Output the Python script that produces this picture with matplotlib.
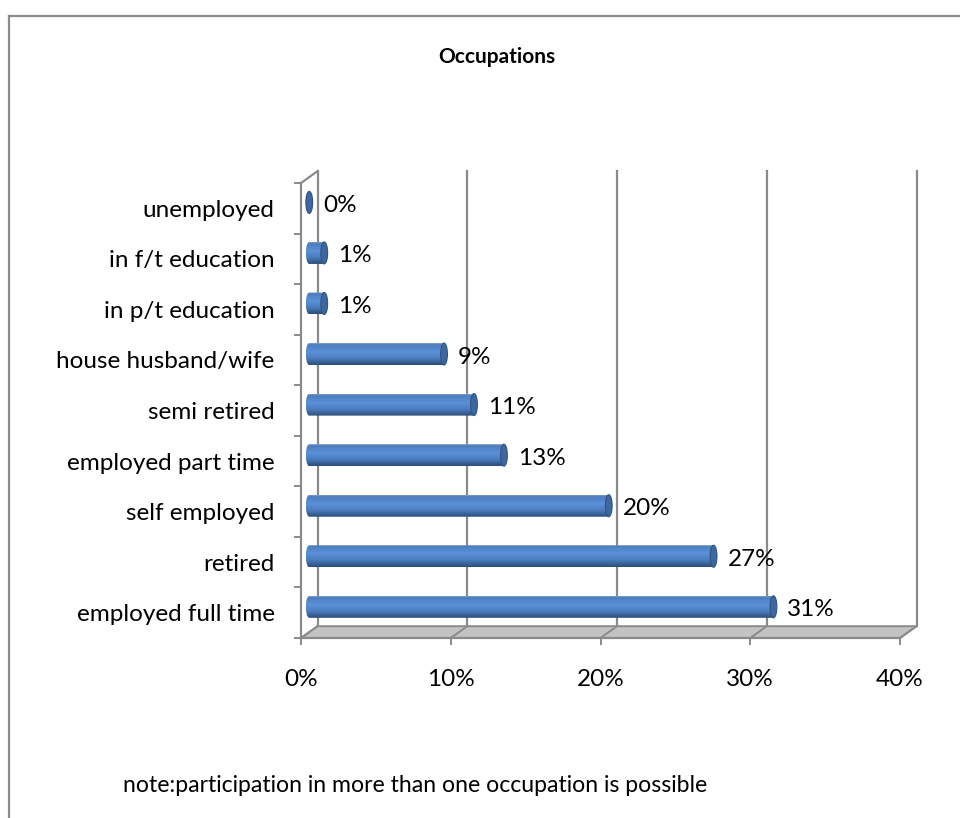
import numpy as np
import matplotlib
matplotlib.use("Agg")
import matplotlib.pyplot as plt
from matplotlib.patches import Polygon, Ellipse
from matplotlib.lines import Line2D
from matplotlib.colors import to_rgb

# ---- data ----
categories = ["unemployed", "in f/t education", "in p/t education",
              "house husband/wife", "semi retired", "employed part time",
              "self employed", "retired", "employed full time"]
values = [0, 1, 1, 9, 11, 13, 20, 27, 31]
xticks = [0, 10, 20, 30, 40]
xtick_labels = ["0%", "10%", "20%", "30%", "40%"]
title = "Occupations"
note = "note:participation in more than one occupation is possible"

plt.rcParams['font.family'] = ['Lato', 'DejaVu Sans']
FS = 17.5
GRID = "#8a8a8a"

W, H = 960, 818
fig = plt.figure(figsize=(W / 100, H / 100), dpi=100)
fig.patch.set_facecolor("white")

# outer chart border (left and top only visible)
fig.add_artist(Line2D([9 / W, 9 / W], [0, 1 - 16 / H], color="#8c8c8c", lw=1.6))
fig.add_artist(Line2D([9 / W, 1], [1 - 16 / H, 1 - 16 / H], color="#8c8c8c", lw=1.6))

left_px, right_px, top_px, bot_px = 301, 900, 183, 638
ax = fig.add_axes([left_px / W, 1 - bot_px / H, (right_px - left_px) / W, (bot_px - top_px) / H])
ax.set_facecolor("none")

n = len(categories)
xmin, xmax = xticks[0], xticks[-1]
ymin, ymax = -0.5, n - 0.5
px_per_x = (right_px - left_px) / (xmax - xmin)
px_per_y = (bot_px - top_px) / n
dx = 16.5 / px_per_x      # depth offset in data units
dy = 11.8 / px_per_y

# back wall gridlines
for v in xticks:
    ax.plot([v + dx, v + dx], [ymin + dy, ymax + dy], color=GRID, lw=1.6, clip_on=False, zorder=1)
# left wall top diagonal
ax.plot([xmin, xmin + dx], [ymax, ymax + dy], color=GRID, lw=1.6, clip_on=False, zorder=1)

# floor
floor = Polygon([[xmin, ymin], [xmax, ymin], [xmax + dx, ymin + dy], [xmin + dx, ymin + dy]],
                closed=True, facecolor="#c3c3c3", edgecolor=GRID, lw=1.4, clip_on=False, zorder=2)
ax.add_patch(floor)
for v in xticks:
    ax.plot([v, v + dx], [ymin, ymin + dy], color=GRID, lw=1.4, clip_on=False, zorder=2)

# cylinders
stops = [(0.0, "#7d9cc6"), (0.07, "#4b7dbf"), (0.40, "#5c91d9"), (0.70, "#4a7cbd"), (1.0, "#2c4d78")]
N = 64
t = np.linspace(0, 1, N)
cols = np.array([to_rgb(c) for _, c in stops])
pos = np.array([p for p, _ in stops])
grad = np.stack([np.interp(t, pos, cols[:, k]) for k in range(3)], axis=-1)
grad_img = np.repeat(grad[:, None, :], 2, axis=1)

a = 3.4 / px_per_x
b = 11.0 / px_per_y
for i, (cat, v) in enumerate(zip(categories, values)):
    yc = (n - 1 - i) + dy / 2
    x0 = xmin + dx / 2
    x1 = v + dx / 2
    th = np.linspace(np.pi / 2, 3 * np.pi / 2, 40)
    pts = [[x0 + a * np.cos(tt), yc + b * np.sin(tt)] for tt in th]
    pts += [[x1, yc - b], [x1, yc + b]]
    body = Polygon(pts, closed=True, facecolor="none", edgecolor="none", zorder=3)
    ax.add_patch(body)
    im = ax.imshow(grad_img, extent=[x0 - a, x1 + a, yc - b, yc + b], origin="upper",
                   aspect="auto", zorder=3, interpolation="bilinear")
    im.set_clip_path(body)
    cap = Ellipse((x1, yc), 2 * a, 2 * b, facecolor="#3e679d", edgecolor="#2f5485", lw=0.8, zorder=4)
    ax.add_patch(cap)
    ax.text(x1 + a + 0.7, yc - 0.06, f"{v}%", ha="left", va="center", fontsize=FS, color="black", zorder=5)

ax.set_xlim(xmin, xmax)
ax.set_ylim(ymin, ymax)

# axes / ticks
for s in ["top", "right"]:
    ax.spines[s].set_visible(False)
for s in ["left", "bottom"]:
    ax.spines[s].set_color(GRID)
    ax.spines[s].set_linewidth(1.6)
    ax.spines[s].set_zorder(2.5)

ax.set_xticks(xticks)
ax.set_xticklabels(xtick_labels, fontsize=FS)
ax.tick_params(axis="x", length=5, width=1.4, color=GRID, pad=17)

ax.set_yticks(range(n))
ax.set_yticklabels(categories[::-1], fontsize=FS)
ax.set_yticks(np.arange(ymin, ymax + 0.01, 1.0), minor=True)
ax.tick_params(axis="y", which="major", length=0, pad=19)
ax.tick_params(axis="y", which="minor", length=5, width=1.4, color=GRID)

fig.text(497 / W, 1 - 57 / H, title, ha="center", va="center", fontsize=15, fontweight="bold")
fig.text(123 / W, 1 - 785 / H, note, ha="left", va="center", fontsize=16.6)

fig.savefig("out.png", dpi=100, facecolor="white")
